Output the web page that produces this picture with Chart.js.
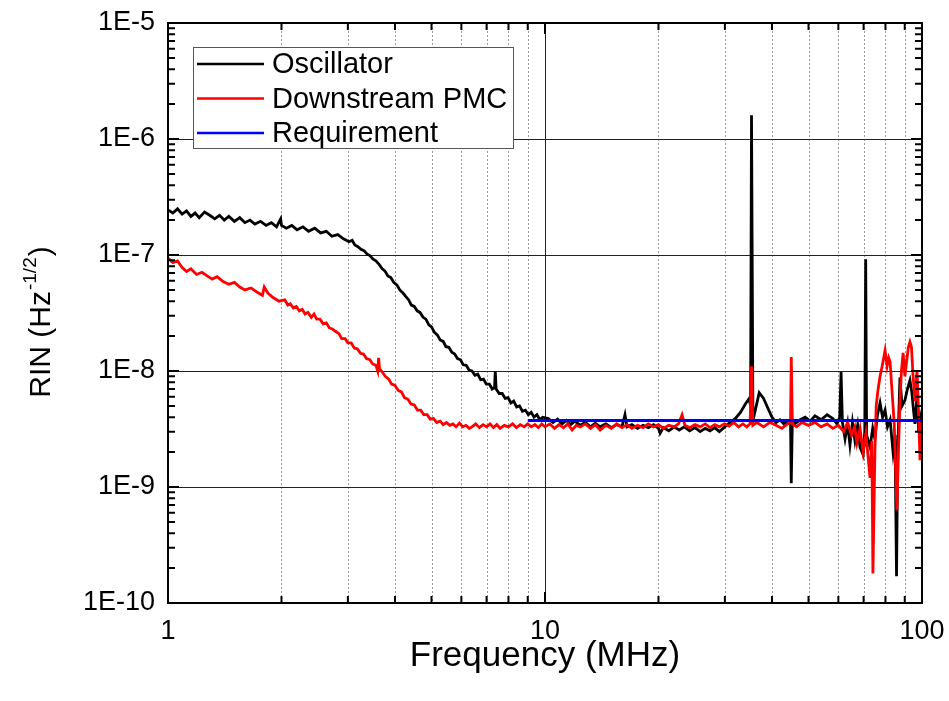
<!DOCTYPE html>
<html>
<head>
<meta charset="utf-8">
<script src="https://cdn.jsdelivr.net/npm/chart.js@4.4.1/dist/chart.umd.min.js"></script>
<style>
  html, body { margin: 0; padding: 0; background: #fff; }
  canvas { display: block; }
</style>
</head>
<body>
<canvas id="rin-chart" width="949" height="701"></canvas>
<script>
/* ── Axis ticks ── */
var xTickValues = [1, 10, 100];
var xTickLabels = ['1', '10', '100'];
var yTickValues = [1e-10, 1e-9, 1e-8, 1e-7, 1e-6, 1e-5];
var yTickLabels = ['1E-10', '1E-9', '1E-8', '1E-7', '1E-6', '1E-5'];

/* ── Oscillator (black) ── */
var oscFreq = [
    1.00, 1.03, 1.06, 1.09, 1.12, 1.15, 1.18, 1.21, 1.25, 1.29,
    1.33, 1.37, 1.41, 1.45, 1.50, 1.55, 1.60, 1.65, 1.70, 1.76,
    1.82, 1.88, 1.94, 1.99, 2.00, 2.06, 2.13, 2.20, 2.28, 2.36,
    2.45, 2.54, 2.63, 2.72, 2.82, 2.92, 3.02, 3.08, 3.13, 3.19,
    3.25, 3.31, 3.37, 3.43, 3.50, 3.56, 3.63, 3.70, 3.76, 3.83,
    3.90, 3.97, 4.05, 4.12, 4.20, 4.27, 4.35, 4.42, 4.50, 4.58,
    4.66, 4.75, 4.83, 4.92, 5.00, 5.09, 5.18, 5.27, 5.37, 5.46,
    5.56, 5.66, 5.76, 5.86, 5.97, 6.07, 6.18, 6.29, 6.40, 6.52,
    6.63, 6.75, 6.87, 6.99, 7.12, 7.24, 7.35, 7.38, 7.42, 7.56,
    7.70, 7.84, 7.98, 8.12, 8.26, 8.41, 8.56, 8.71, 8.87, 9.03,
    9.19, 9.35, 9.52, 9.69, 9.86, 10.2, 10.5, 10.8, 11.1, 11.4,
    11.7, 12.0, 12.4, 12.8, 13.2, 13.6, 14.0, 14.5, 15.0, 15.5,
    16.0, 16.3, 16.5, 17.0, 17.6, 18.2, 18.8, 19.4, 20.0, 20.2,
    20.6, 21.3, 22.0, 22.7, 23.4, 24.2, 25.0, 25.8, 26.6, 27.4,
    28.2, 29.0, 30.0, 31.0, 32.0, 33.0, 34.0, 34.8, 35.1, 35.3,
    35.6, 35.9, 37.0, 38.0, 39.0, 40.0, 41.0, 42.0, 43.0, 44.0,
    44.8, 45.0, 45.3, 46.0, 47.5, 49.0, 50.5, 52.0, 54.0, 56.0,
    58.0, 59.5, 60.5, 61.0, 61.5, 62.5, 63.5, 64.4, 65.4, 66.4,
    67.5, 68.5, 69.8, 70.5, 70.9, 71.3, 72.8, 74.0, 75.0, 76.2,
    77.4, 78.6, 79.8, 81.0, 82.3, 83.8, 84.8, 85.6, 86.2, 87.4,
    88.5, 90.1, 91.5, 92.9, 94.0, 95.0, 95.8, 97.0, 98.0, 99.0,
    100
];
var oscRin = [
    2.45e-7, 2.30e-7, 2.50e-7, 2.25e-7, 2.40e-7, 2.15e-7, 2.30e-7, 2.10e-7, 2.35e-7, 2.20e-7,
    2.05e-7, 2.20e-7, 2.00e-7, 2.15e-7, 1.95e-7, 2.10e-7, 1.90e-7, 2.00e-7, 1.85e-7, 1.95e-7,
    1.80e-7, 1.90e-7, 1.75e-7, 2.05e-7, 1.80e-7, 1.70e-7, 1.80e-7, 1.65e-7, 1.75e-7, 1.60e-7,
    1.70e-7, 1.55e-7, 1.60e-7, 1.45e-7, 1.50e-7, 1.38e-7, 1.30e-7, 1.34e-7, 1.22e-7, 1.18e-7,
    1.12e-7, 1.09e-7, 1.02e-7, 9.9e-8, 9.2e-8, 8.9e-8, 8.3e-8, 7.6e-8, 7.3e-8, 6.6e-8,
    6.4e-8, 5.8e-8, 5.5e-8, 5.0e-8, 4.7e-8, 4.4e-8, 4.1e-8, 3.7e-8, 3.6e-8, 3.3e-8,
    3.2e-8, 2.9e-8, 2.8e-8, 2.5e-8, 2.4e-8, 2.15e-8, 2.05e-8, 1.85e-8, 1.8e-8, 1.62e-8,
    1.6e-8, 1.45e-8, 1.4e-8, 1.28e-8, 1.25e-8, 1.13e-8, 1.12e-8, 1.02e-8, 1.0e-8, 9.2e-9,
    9.4e-9, 8.4e-9, 8.5e-9, 7.7e-9, 7.7e-9, 7.0e-9, 7.2e-9, 1.0e-8, 7.0e-9, 6.4e-9,
    6.4e-9, 5.8e-9, 5.9e-9, 5.3e-9, 5.5e-9, 4.9e-9, 5.0e-9, 4.5e-9, 4.6e-9, 4.2e-9,
    4.4e-9, 4.0e-9, 4.2e-9, 3.8e-9, 4.0e-9, 3.9e-9, 3.6e-9, 3.85e-9, 3.5e-9, 3.75e-9,
    3.45e-9, 3.7e-9, 3.4e-9, 3.6e-9, 3.3e-9, 3.55e-9, 3.3e-9, 3.5e-9, 3.25e-9, 3.45e-9,
    3.3e-9, 4.2e-9, 3.3e-9, 3.45e-9, 3.2e-9, 3.4e-9, 3.25e-9, 3.45e-9, 3.2e-9, 2.9e-9,
    3.25e-9, 3.05e-9, 3.3e-9, 3.1e-9, 3.3e-9, 3.05e-9, 3.25e-9, 3.0e-9, 3.2e-9, 3.05e-9,
    3.25e-9, 3.0e-9, 3.3e-9, 3.6e-9, 3.9e-9, 4.4e-9, 5.2e-9, 5.8e-9, 5.0e-9, 1.6e-6,
    4.8e-9, 4.2e-9, 6.5e-9, 5.8e-9, 4.8e-9, 4.0e-9, 3.6e-9, 3.8e-9, 3.5e-9, 3.7e-9,
    3.6e-9, 1.08e-9, 3.8e-9, 3.5e-9, 3.8e-9, 4.0e-9, 3.7e-9, 4.1e-9, 3.8e-9, 4.2e-9,
    3.9e-9, 3.5e-9, 4.0e-9, 9.8e-9, 3.6e-9, 2.6e-9, 3.5e-9, 2.3e-9, 3.6e-9, 2.5e-9,
    3.4e-9, 2.2e-9, 1.9e-9, 3.0e-9, 9.2e-8, 2.8e-9, 2.2e-9, 3.2e-9, 2.6e-9, 4.2e-9,
    5.3e-9, 4.0e-9, 4.6e-9, 3.3e-9, 3.8e-9, 2.0e-9, 2.8e-9, 1.7e-10, 2.0e-9, 8.8e-9,
    5.0e-9, 5.6e-9, 7.0e-9, 8.3e-9, 6.5e-9, 4.5e-9, 3.5e-9, 6.0e-9, 3.0e-9, 4.0e-9,
    3.4e-9
];

/* ── Downstream PMC (red) ── */
var pmcFreq = [
    1.00, 1.03, 1.06, 1.09, 1.12, 1.15, 1.19, 1.23, 1.27, 1.31,
    1.35, 1.40, 1.45, 1.50, 1.55, 1.60, 1.66, 1.72, 1.78, 1.80,
    1.84, 1.90, 1.97, 2.04, 2.08, 2.11, 2.15, 2.19, 2.23, 2.27,
    2.31, 2.35, 2.40, 2.44, 2.48, 2.53, 2.58, 2.63, 2.68, 2.73,
    2.78, 2.84, 2.89, 2.95, 3.00, 3.06, 3.12, 3.18, 3.24, 3.30,
    3.36, 3.43, 3.49, 3.56, 3.60, 3.62, 3.64, 3.70, 3.77, 3.85,
    3.92, 4.00, 4.08, 4.16, 4.24, 4.33, 4.41, 4.50, 4.59, 4.68,
    4.77, 4.87, 4.96, 5.06, 5.16, 5.27, 5.37, 5.48, 5.59, 5.70,
    5.81, 5.93, 6.05, 6.17, 6.30, 6.40, 6.55, 6.70, 6.85, 7.00,
    7.15, 7.30, 7.45, 7.60, 7.80, 8.00, 8.20, 8.40, 8.60, 8.80,
    9.00, 9.20, 9.40, 9.60, 9.80, 10.0, 10.3, 10.6, 10.9, 11.2,
    11.5, 11.8, 12.1, 12.4, 12.8, 13.2, 13.6, 14.0, 14.5, 15.0,
    15.5, 16.0, 16.5, 17.0, 17.6, 18.2, 18.8, 19.4, 20.0, 20.6,
    21.3, 22.0, 22.6, 23.1, 23.5, 24.2, 25.0, 25.8, 26.6, 27.4,
    28.2, 29.0, 29.9, 30.8, 31.7, 32.6, 33.5, 34.3, 35.0, 35.3,
    35.6, 36.5, 38.0, 39.5, 41.0, 42.5, 44.0, 44.8, 45.0, 45.3,
    46.5, 48.0, 50.0, 52.0, 54.0, 56.0, 58.0, 60.0, 62.0, 63.5,
    65.0, 66.3, 67.2, 68.5, 69.8, 71.0, 72.8, 73.6, 74.1, 75.0,
    75.6, 76.4, 77.4, 78.4, 79.8, 80.8, 81.6, 82.3, 83.2, 84.4,
    85.8, 86.6, 87.4, 88.2, 89.1, 90.1, 91.0, 92.0, 92.9, 93.8,
    94.6, 95.8, 97.0, 98.0, 98.8, 99.5, 100
];
var pmcRin = [
    9.4e-8, 8.6e-8, 8.9e-8, 7.8e-8, 7.2e-8, 7.6e-8, 6.8e-8, 7.1e-8, 6.6e-8, 6.2e-8,
    6.5e-8, 5.9e-8, 5.6e-8, 5.8e-8, 5.3e-8, 5.0e-8, 5.2e-8, 4.8e-8, 4.5e-8, 5.3e-8,
    4.7e-8, 4.3e-8, 4.0e-8, 4.1e-8, 3.7e-8, 3.8e-8, 3.5e-8, 3.6e-8, 3.3e-8, 3.4e-8,
    3.1e-8, 3.2e-8, 2.9e-8, 3.1e-8, 2.8e-8, 2.8e-8, 2.55e-8, 2.6e-8, 2.35e-8, 2.3e-8,
    2.2e-8, 2.1e-8, 1.9e-8, 1.9e-8, 1.75e-8, 1.75e-8, 1.58e-8, 1.55e-8, 1.42e-8, 1.4e-8,
    1.28e-8, 1.25e-8, 1.15e-8, 1.12e-8, 1.0e-8, 1.3e-8, 1.05e-8, 9.8e-9, 9.0e-9, 8.5e-9,
    7.7e-9, 7.5e-9, 6.8e-9, 6.6e-9, 5.9e-9, 5.7e-9, 5.2e-9, 5.1e-9, 4.6e-9, 4.6e-9,
    4.2e-9, 4.2e-9, 3.85e-9, 3.9e-9, 3.6e-9, 3.7e-9, 3.45e-9, 3.6e-9, 3.4e-9, 3.5e-9,
    3.3e-9, 3.55e-9, 3.3e-9, 3.4e-9, 3.2e-9, 3.3e-9, 3.5e-9, 3.25e-9, 3.45e-9, 3.3e-9,
    3.5e-9, 3.25e-9, 3.45e-9, 3.2e-9, 3.4e-9, 3.3e-9, 3.5e-9, 3.25e-9, 3.45e-9, 3.3e-9,
    3.5e-9, 3.3e-9, 3.45e-9, 3.25e-9, 3.5e-9, 3.3e-9, 3.5e-9, 3.2e-9, 3.45e-9, 3.25e-9,
    3.5e-9, 3.1e-9, 3.4e-9, 3.3e-9, 3.5e-9, 3.2e-9, 3.45e-9, 3.1e-9, 3.4e-9, 3.2e-9,
    3.5e-9, 3.25e-9, 3.45e-9, 3.2e-9, 3.4e-9, 3.25e-9, 3.5e-9, 3.3e-9, 3.45e-9, 3.2e-9,
    3.4e-9, 3.3e-9, 3.5e-9, 4.2e-9, 3.4e-9, 3.25e-9, 3.45e-9, 3.3e-9, 3.5e-9, 3.25e-9,
    3.45e-9, 3.3e-9, 3.5e-9, 3.35e-9, 3.6e-9, 3.3e-9, 3.5e-9, 3.3e-9, 3.5e-9, 1.1e-8,
    3.4e-9, 3.6e-9, 3.3e-9, 3.6e-9, 3.4e-9, 3.2e-9, 3.5e-9, 3.6e-9, 1.32e-8, 3.5e-9,
    3.3e-9, 3.6e-9, 3.4e-9, 3.6e-9, 3.3e-9, 3.5e-9, 3.2e-9, 3.4e-9, 3.0e-9, 3.6e-9,
    2.8e-9, 3.3e-9, 2.4e-9, 3.2e-9, 2.0e-9, 2.9e-9, 1.2e-9, 2.5e-9, 1.8e-10, 2.0e-9,
    5.0e-9, 6.8e-9, 9.0e-9, 1.1e-8, 1.5e-8, 1.1e-8, 1.3e-8, 1.2e-8, 7.0e-9, 3.5e-9,
    6.3e-10, 2.0e-9, 5.5e-9, 1.0e-8, 1.43e-8, 9.0e-9, 1.2e-8, 1.6e-8, 1.78e-8, 1.6e-8,
    9.5e-9, 5.5e-9, 1.0e-8, 4.0e-9, 1.7e-9, 3.5e-9, 3.6e-9
];

/* ── Requirement (blue) ── */
var reqFreq = [9.0, 100];
var reqRin = [3.75e-9, 3.75e-9];

(function () {
    'use strict';

    var fontFamily = '"Liberation Sans", Arial, sans-serif';

    function toPoints(xs, ys) {
        return xs.map(function (x, i) { return { x: x, y: ys[i] }; });
    }

    /* ── Grid, frame, ticks, legend and titles drawn by hand ── */
    var originPlugin = {
        id: 'originFrame',
        beforeDatasetsDraw: function (chart) {
            var ctx = chart.ctx, a = chart.chartArea;
            var xs = chart.scales.x, ys = chart.scales.y;
            ctx.save();
            ctx.lineWidth = 1;
            // minor x, dotted
            ctx.strokeStyle = '#9a9a9a';
            ctx.setLineDash([2, 2]);
            [1, 10].forEach(function (d) {
                for (var k = 2; k <= 9; k++) {
                    var px = Math.round(xs.getPixelForValue(k * d)) + 0.5;
                    ctx.beginPath();
                    ctx.moveTo(px, a.top);
                    ctx.lineTo(px, a.bottom);
                    ctx.stroke();
                }
            });
            // major, solid
            ctx.setLineDash([]);
            ctx.strokeStyle = '#222';
            var px10 = Math.round(xs.getPixelForValue(10)) + 0.5;
            ctx.beginPath();
            ctx.moveTo(px10, a.top);
            ctx.lineTo(px10, a.bottom);
            ctx.stroke();
            yTickValues.slice(1, -1).forEach(function (v) {
                var py = Math.round(ys.getPixelForValue(v)) + 0.5;
                ctx.beginPath();
                ctx.moveTo(a.left, py);
                ctx.lineTo(a.right, py);
                ctx.stroke();
            });
            ctx.restore();
        },
        afterDraw: function (chart) {
            var ctx = chart.ctx, a = chart.chartArea;
            var xs = chart.scales.x, ys = chart.scales.y;
            ctx.save();

            /* legend box */
            var lx = a.left + 25, ly = a.top + 24, lw = 320, lh = 101;
            ctx.fillStyle = '#fff';
            ctx.fillRect(lx, ly, lw, lh);
            ctx.strokeStyle = '#555';
            ctx.lineWidth = 1;
            ctx.strokeRect(lx + 0.5, ly + 0.5, lw, lh);
            ctx.font = '29px ' + fontFamily;
            ctx.textBaseline = 'middle';
            ctx.textAlign = 'left';
            chart.data.datasets.forEach(function (ds, i) {
                var rowY = ly + 17 + i * 34.5;
                ctx.strokeStyle = ds.borderColor;
                ctx.lineWidth = 2.5;
                ctx.beginPath();
                ctx.moveTo(lx + 4, rowY);
                ctx.lineTo(lx + 71, rowY);
                ctx.stroke();
                ctx.fillStyle = '#000';
                ctx.fillText(ds.label, lx + 79, rowY + 1);
            });

            /* frame */
            ctx.strokeStyle = '#000';
            ctx.lineWidth = 2;
            ctx.strokeRect(a.left, a.top, a.right - a.left, a.bottom - a.top);

            /* inward ticks on all four sides */
            [1, 10].forEach(function (d) {
                for (var k = 1; k <= 10; k++) {
                    var px = xs.getPixelForValue(k * d);
                    var len = (k === 1 || k === 10) ? 11 : 7;
                    ctx.beginPath();
                    ctx.moveTo(px, a.bottom);
                    ctx.lineTo(px, a.bottom - len);
                    ctx.moveTo(px, a.top);
                    ctx.lineTo(px, a.top + len);
                    ctx.stroke();
                }
            });
            yTickValues.slice(0, -1).forEach(function (d) {
                for (var k = 1; k <= 10; k++) {
                    var py = ys.getPixelForValue(k * d);
                    var len = (k === 1 || k === 10) ? 11 : 7;
                    ctx.beginPath();
                    ctx.moveTo(a.left, py);
                    ctx.lineTo(a.left + len, py);
                    ctx.moveTo(a.right, py);
                    ctx.lineTo(a.right - len, py);
                    ctx.stroke();
                }
            });

            /* axis titles */
            ctx.fillStyle = '#000';
            ctx.font = '35px ' + fontFamily;
            ctx.textAlign = 'center';
            ctx.textBaseline = 'alphabetic';
            ctx.fillText('Frequency (MHz)', (a.left + a.right) / 2, 666);

            ctx.translate(50, 322);
            ctx.rotate(-Math.PI / 2);
            var main = 'RIN (Hz', sup = '-1/2', close = ')';
            ctx.font = '30px ' + fontFamily;
            var w1 = ctx.measureText(main).width;
            var w3 = ctx.measureText(close).width;
            ctx.font = '19px ' + fontFamily;
            var w2 = ctx.measureText(sup).width;
            var x0 = -(w1 + w2 + w3 + 2) / 2;
            ctx.textAlign = 'left';
            ctx.font = '30px ' + fontFamily;
            ctx.fillText(main, x0, 0);
            ctx.font = '19px ' + fontFamily;
            ctx.fillText(sup, x0 + w1 + 1, -14);
            ctx.font = '30px ' + fontFamily;
            ctx.fillText(close, x0 + w1 + w2 + 2, 0);
            ctx.restore();
        }
    };

    var canvas = document.getElementById('rin-chart');
    new Chart(canvas, {
        type: 'line',
        data: {
            datasets: [
                {
                    label: 'Oscillator',
                    data: toPoints(oscFreq, oscRin),
                    borderColor: '#000000',
                    borderWidth: 2.8,
                    pointRadius: 0,
                    tension: 0,
                    order: 3
                },
                {
                    label: 'Downstream PMC',
                    data: toPoints(pmcFreq, pmcRin),
                    borderColor: '#ff0000',
                    borderWidth: 2.8,
                    pointRadius: 0,
                    tension: 0,
                    order: 2
                },
                {
                    label: 'Requirement',
                    data: toPoints(reqFreq, reqRin),
                    borderColor: '#0000ff',
                    borderWidth: 3,
                    pointRadius: 0,
                    tension: 0,
                    order: 1
                }
            ]
        },
        options: {
            responsive: false,
            animation: false,
            events: [],
            layout: { padding: { top: 23, right: 27, left: 0, bottom: 0 } },
            plugins: {
                legend: { display: false },
                tooltip: { enabled: false }
            },
            scales: {
                x: {
                    type: 'logarithmic',
                    min: 1,
                    max: 100,
                    grid: { display: false, drawTicks: false },
                    border: { display: false },
                    afterBuildTicks: function (s) {
                        s.ticks = xTickValues.map(function (v) { return { value: v }; });
                    },
                    afterFit: function (s) {
                        s.height = 98;
                        s.paddingLeft = 0;
                        s.paddingRight = 0;
                    },
                    ticks: {
                        autoSkip: false,
                        maxRotation: 0,
                        padding: 12,
                        color: '#000',
                        font: { family: fontFamily, size: 27 },
                        callback: function (v, i) { return xTickLabels[i]; }
                    }
                },
                y: {
                    type: 'logarithmic',
                    min: 1e-10,
                    max: 1e-5,
                    grid: { display: false, drawTicks: false },
                    border: { display: false },
                    afterBuildTicks: function (s) {
                        s.ticks = yTickValues.map(function (v) { return { value: v }; });
                    },
                    afterFit: function (s) {
                        s.width = 168;
                        s.paddingTop = 0;
                        s.paddingBottom = 0;
                    },
                    ticks: {
                        autoSkip: false,
                        padding: 13,
                        color: '#000',
                        font: { family: fontFamily, size: 27 },
                        callback: function (v, i) { return yTickLabels[i]; }
                    }
                }
            }
        },
        plugins: [originPlugin]
    });
})();
</script>
</body>
</html>
